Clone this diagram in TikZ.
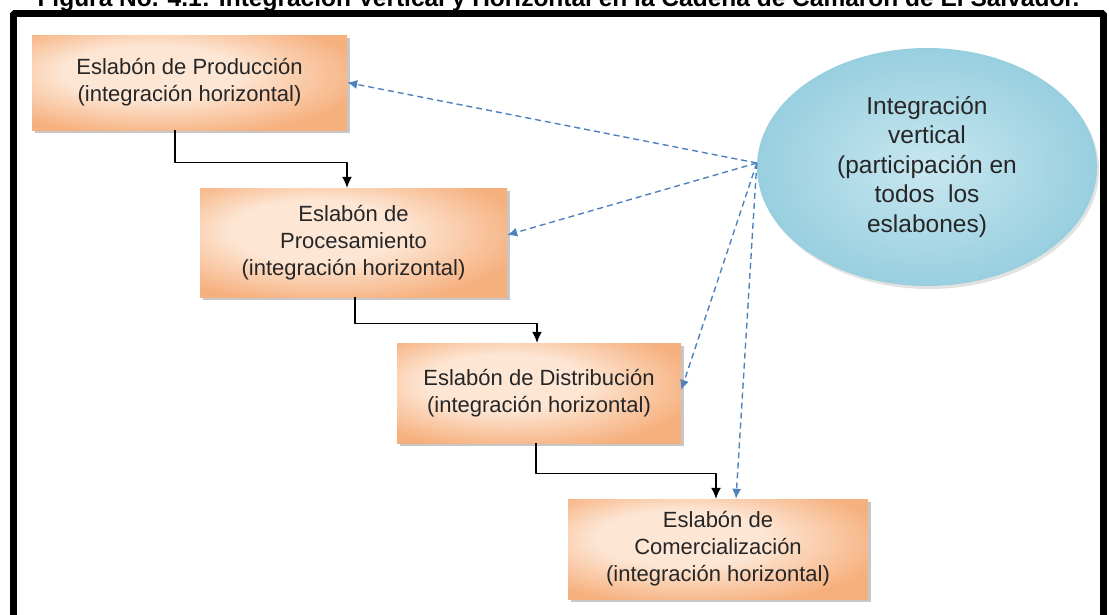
\documentclass[tikz,border=0pt]{standalone}
\usepackage{fontspec}
\setmainfont{Liberation Sans}
\usetikzlibrary{arrows.meta,shapes.geometric,shadows}
\definecolor{peachdark}{HTML}{F6B07E}
\definecolor{peachlight}{HTML}{FDE6D4}
\definecolor{aquadark}{HTML}{98CFDF}
\definecolor{aqualight}{HTML}{C8E7F0}
\definecolor{linkblue}{HTML}{4F81BD}
\pgfdeclareradialshading{peachglow}{\pgfpoint{-8bp}{7bp}}{color(0bp)=(peachlight); color(14bp)=(peachlight); color(32bp)=(peachdark); color(60bp)=(peachdark)}
\tikzset{
  eslabon/.style={rectangle,inner sep=0pt,align=center,text=black!85,
    font=\fontsize{22}{27}\selectfont,shade,shading=peachglow,
    drop shadow={shadow xshift=3pt,shadow yshift=-3pt,fill=black!40,opacity=0.55}},
  integra/.style={ellipse,inner sep=0pt,align=center,text=black!85,
    font=\fontsize{24.5}{29.5}\selectfont,
    inner color=aqualight,outer color=aquadark,
    drop shadow={shadow xshift=2pt,shadow yshift=-3pt,fill=black!25,opacity=0.45}},
  link/.style={black,line width=1.4pt,-{Latex[length=11pt,width=10pt]}},
  vlink/.style={linkblue,line width=1.4pt,dash pattern=on 6pt off 4pt,-{Latex[length=10pt,width=9pt]}},
}
\begin{document}
\begin{tikzpicture}[x=1pt,y=-1pt,line join=bevel]
 \useasboundingbox (0,0) rectangle (1109,614);

 \node (titulo) at (558.5,6) [anchor=base,font=\fontsize{24.5}{28}\selectfont\bfseries] {Figura No. 4.1: Integración Vertical y Horizontal en la Cadena de Camarón de El Salvador.};
 \draw [line width=7pt] (13,13.5) rectangle (1103.5,650);

 \node (node_0) at (189.5,82.5) [eslabon,minimum width=315pt,minimum height=95pt] {Eslabón de Producción\\(integración horizontal)};
 \node (node_1) at (353.5,242.5) [eslabon,minimum width=307pt,minimum height=109pt] {Eslabón de\\Procesamiento\\(integración horizontal)};
 \node (node_2) at (539,393) [eslabon,minimum width=284pt,minimum height=100pt] {Eslabón de Distribución\\(integración horizontal)};
 \node (node_3) at (718,549) [eslabon,minimum width=300pt,minimum height=100pt] {Eslabón de\\Comercialización\\(integración horizontal)};
 \node (node_4) at (927,167) [integra,minimum width=340pt,minimum height=238pt] {Integración\\vertical\\(participación en\\todos\ \ los\\eslabones)};

  \draw [link] ([xshift=-14.5pt]node_0.south) -- ++(0,32) -| ([xshift=-6.5pt]node_1.north);
  \draw [link] ([xshift=1.5pt]node_1.south) -- ++(0,26) -| ([xshift=-2pt]node_2.north);
  \draw [link] ([xshift=-3pt]node_2.south) -- ++(0,30) -| ([xshift=-2pt]node_3.north);

  \draw [vlink] ([yshift=4pt]node_4.west) -- (node_0.east);
  \draw [vlink] ([yshift=4pt]node_4.west) -- ([yshift=7.5pt]node_1.east);
  \draw [vlink] ([yshift=4pt]node_4.west) -- ([yshift=3pt]node_2.east);
  \draw [vlink] ([yshift=4pt]node_4.west) -- ([xshift=18pt]node_3.north);

\end{tikzpicture}
\end{document}
